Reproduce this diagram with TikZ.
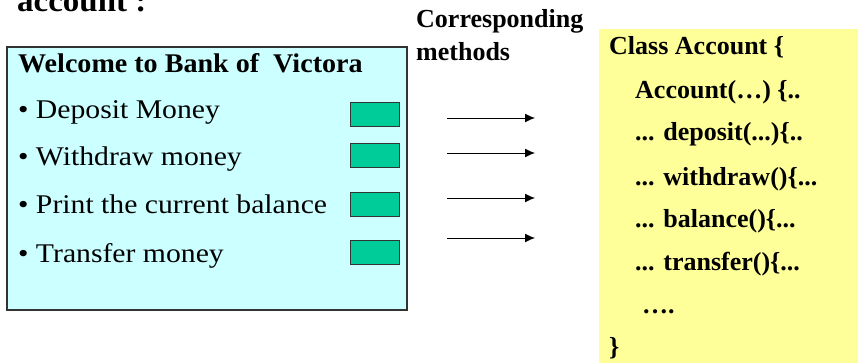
\documentclass[tikz,border=0pt]{standalone}
\usepackage{fontspec}
\setmainfont{Liberation Serif}
\usetikzlibrary{arrows,arrows.meta,calc,positioning}
\definecolor{screenblue}{HTML}{CCFFFF}
\definecolor{buttongreen}{HTML}{00CC99}
\definecolor{codeyellow}{HTML}{FFFF99}
\tikzset{%
heading/.style={font=\bfseries\fontsize{26}{30}\selectfont, inner sep=0pt, anchor=base west},
menuitem/.style={font=\fontsize{27}{30}\selectfont\addfontfeature{FakeStretch=1.1}, inner sep=0pt, anchor=base west},
button/.style={draw=black!80, fill=buttongreen, line width=1pt,
  minimum width=49pt, minimum height=24pt, inner sep=0pt},
callarrow/.style={-{Latex[length=10pt,width=9pt]}, line width=1pt}
}

\begin{document}
\begin{tikzpicture}[x=1pt,y=-1pt]
\clip (0,0) rectangle (858,362);

% title cut off at the top
\node[heading, font=\bfseries\fontsize{32}{34}\selectfont\addfontfeature{FakeStretch=1.03}] (title) at (17,11) {account :};

% the bank screen
\draw[fill=screenblue, draw=black!80, line width=1.2pt] (7,47) rectangle (407,310);
\node[heading, font=\bfseries\fontsize{27}{30}\selectfont\addfontfeature{FakeStretch=1.04}] (welcome) at (18,72) {Welcome to Bank of\ \ Victora};
\node[menuitem] (deposit) at (18,118) {• Deposit Money};
\node[menuitem] (withdraw) at (18,165) {• Withdraw money};
\node[menuitem] (print) at (18,213) {• Print the current balance};
\node[menuitem] (transfer) at (18,262) {• Transfer money};

\node[button] (bdeposit) at (374.5,114) {};
\node[button] (bwithdraw) at (374.5,155.5) {};
\node[button] (bprint) at (374.5,204) {};
\node[button] (btransfer) at (374.5,252) {};

% caption over the arrows
\node[heading] (corr) at (416,27) {Corresponding};
\node[heading] (meth) at (416,60) {methods};

% the class
\fill[codeyellow] (599,29) rectangle (870,370);
\node[heading] (cls) at (609,54) {Class Account \{};
\node[heading] (ctor) at (635,98) {Account(…) \{..};
\node[heading] (mdeposit) at (635,140) {... deposit(...)\{..};
\node[heading] (mwithdraw) at (635,185) {... withdraw()\{...};
\node[heading] (mbalance) at (635,227) {... balance()\{...};
\node[heading] (mtransfer) at (635,270) {... transfer()\{...};
\node[heading] (more) at (642,313) {….};
\node[heading] (close) at (609,355) {\}};

% arrows
\foreach \y [count=\i] in {118,153,198,238}{
  \coordinate (from\i) at (447,\y);
  \coordinate (to\i) at (535,\y);
  \draw[callarrow] (from\i) -- (to\i);
}
\end{tikzpicture}
\end{document}
